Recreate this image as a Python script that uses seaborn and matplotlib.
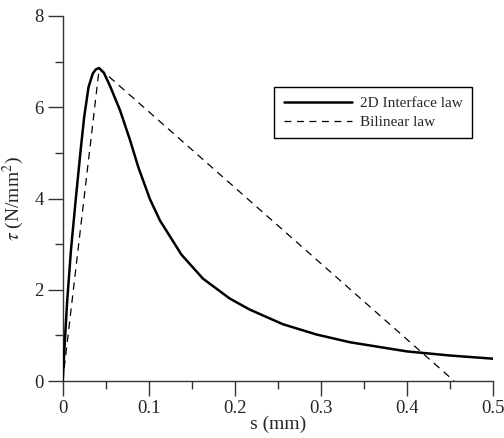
import matplotlib
matplotlib.use("Agg")
import matplotlib.pyplot as plt
import seaborn as sns
import pandas as pd

# Data
s_interface = [0.0, 0.0019, 0.0053, 0.0096, 0.0151, 0.0209, 0.025, 0.030, 0.035,
               0.0385, 0.0422, 0.048, 0.0549, 0.0665, 0.0781, 0.088, 0.1013,
               0.113, 0.138, 0.163, 0.194, 0.2175, 0.256, 0.295, 0.334,
               0.400, 0.450, 0.500]
tau_interface = [0.0, 0.68, 1.78, 2.87, 3.97, 5.07, 5.79, 6.44, 6.74,
                 6.83, 6.86, 6.75, 6.47, 5.94, 5.29, 4.68, 3.99,
                 3.52, 2.77, 2.245, 1.81, 1.565, 1.245, 1.02, 0.85,
                 0.65, 0.56, 0.49]
s_bilinear = [0.0, 0.0425, 0.455]
tau_bilinear = [0.0, 6.86, 0.0]

labels = ["2D Interface law", "Bilinear law"]
x_ticks = [0, 0.1, 0.2, 0.3, 0.4, 0.5]
x_tick_labels = ["0", "0.1", "0.2", "0.3", "0.4", "0.5"]
y_ticks = [0, 2, 4, 6, 8]

sns.set_style("ticks")
plt.rcParams["font.family"] = ["Liberation Serif", "DejaVu Serif"]
plt.rcParams["mathtext.fontset"] = "stix"

df1 = pd.DataFrame({"s": s_interface, "tau": tau_interface})
df2 = pd.DataFrame({"s": s_bilinear, "tau": tau_bilinear})

fig = plt.figure(figsize=(5.04, 4.38), dpi=100)
ax = fig.add_axes([0.1244, 0.130, 0.8536, 0.8335])

sns.lineplot(data=df1, x="s", y="tau", sort=False, ax=ax, color="black",
             linewidth=1.8, label=labels[0])
sns.lineplot(data=df2, x="s", y="tau", sort=False, ax=ax, color="black",
             linewidth=0.9, label=labels[1])
ax.lines[0].set_solid_joinstyle("round")
ax.lines[1].set_dashes((6, 4.5))

ax.set_xlim(0, 0.5)
ax.set_ylim(0, 8)
ax.set_xticks(x_ticks)
ax.set_xticklabels(x_tick_labels)
ax.set_yticks(y_ticks)
ax.set_xticks([0.05, 0.15, 0.25, 0.35, 0.45], minor=True)
ax.set_yticks([1, 3, 5, 7], minor=True)

for sp in ["top", "right"]:
    ax.spines[sp].set_visible(False)
for sp in ["left", "bottom"]:
    ax.spines[sp].set_color("#333333")
    ax.spines[sp].set_linewidth(1.0)
    ax.spines[sp].set_zorder(0.5)

ax.tick_params(which="major", length=10.5, width=1.0, color="#333333",
               labelsize=13.5, pad=3, direction="out")
ax.tick_params(which="minor", length=5.5, width=1.0, color="#333333",
               direction="out")

ax.set_xlabel("s (mm)", fontsize=14, labelpad=-1)
ax.set_ylabel(r"$\tau$ (N/mm$^2$)", fontsize=14, labelpad=6)

leg = ax.legend(loc="upper left", bbox_to_anchor=(0.492, 0.805),
                borderaxespad=0, fontsize=11, frameon=True, fancybox=False,
                handlelength=4.5, handletextpad=0.5, edgecolor="black",
                framealpha=1, borderpad=0.6, labelspacing=0.35)
leg.get_frame().set_linewidth(1.0)
leg.legend_handles[1].set_dashes((5.5, 4.5))

fig.savefig("out.png", dpi=100)
